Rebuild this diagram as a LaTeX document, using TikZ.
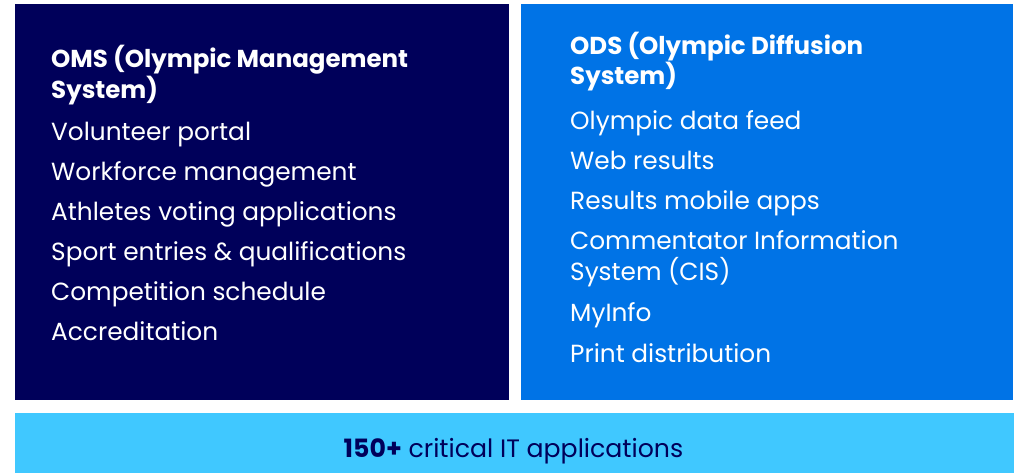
\documentclass[tikz,border=0pt]{standalone}
\usepackage{fontspec}
\setmainfont{Poppins}
\definecolor{navy}{HTML}{00005A}
\definecolor{odsblue}{HTML}{0073E6}
\definecolor{lightblue}{HTML}{40C8FF}
\begin{document}
\begin{tikzpicture}[x=1pt,y=-1pt,
  body/.style={anchor=base west,inner sep=0pt,text=white,font=\fontsize{24.8}{28}\selectfont},
  head/.style={anchor=base west,inner sep=0pt,text=white,font=\fontsize{24.5}{28}\selectfont\bfseries}]
\useasboundingbox (0,0) rectangle (1018,473);
\fill[white] (0,0) rectangle (1018,473);
\fill[navy] (15,4) rectangle (509,400);
\fill[odsblue] (521,4) rectangle (1013,400);
\fill[lightblue] (15,413) rectangle (1014,473);
% left
\node[head] (oms1) at (51,68) {OMS (Olympic Management};
\node[head] (oms2) at (51,99) {System)};
\node[body] (l1) at (51,141) {Volunteer portal};
\node[body] (l2) at (51,181) {Workforce management};
\node[body] (l3) at (51,221) {Athletes voting applications};
\node[body] (l4) at (51,261) {Sport entries \& qualifications};
\node[body] (l5) at (51,301) {Competition schedule};
\node[body] (l6) at (51,341) {Accreditation};
% right
\node[head] (ods1) at (570,55) {ODS (Olympic Diffusion};
\node[head] (ods2) at (570,85) {System)};
\node[body] (r1) at (570,130) {Olympic data feed};
\node[body] (r2) at (570,170) {Web results};
\node[body] (r3) at (570,210) {Results mobile apps};
\node[body] (r4) at (570,250) {Commentator Information};
\node[body] (r5) at (570,281) {System (CIS)};
\node[body] (r6) at (570,322) {MyInfo};
\node[body] (r7) at (570,362) {Print distribution};
% bottom
\node[anchor=base,inner sep=0pt,text=navy,font=\fontsize{25.2}{28}\selectfont] (bottom) at (513.5,457) {\textbf{150+} critical IT applications};
\end{tikzpicture}
\end{document}
